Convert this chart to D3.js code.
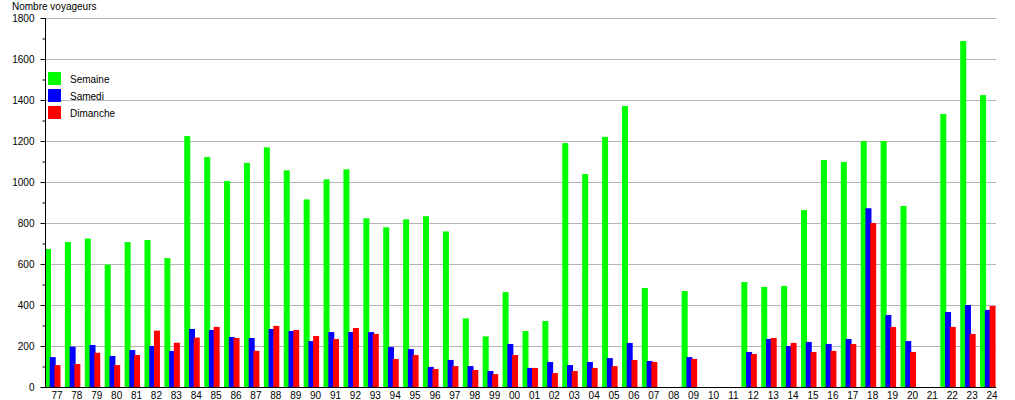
<!DOCTYPE html>
<html>
<head>
<meta charset="utf-8">
<script src="https://cdn.jsdelivr.net/npm/d3@7/dist/d3.min.js"></script>
<style>
  html, body { margin: 0; padding: 0; background: #fff; }
  svg { display: block; font-family: "Liberation Sans", Arial, sans-serif; }
</style>
</head>
<body>
<svg id="chart" width="1015" height="400"></svg>
<script>
const categories = ["77","78","79","80","81","82","83","84","85","86","87","88","89","90","91","92","93","94","95","96","97","98","99",
  "00","01","02","03","04","05","06","07","08","09","10","11","12","13","14","15","16","17","18","19","20","21","22","23","24"];

const semaine = [673,707,724,597,707,717,629,1224,1122,1005,1093,1169,1057,915,1013,1062,823,779,818,833,759,335,247,
  463,273,322,1190,1039,1220,1371,483,null,468,null,null,512,488,493,863,1107,1098,1200,1200,883,null,1332,1688,1424];

const samedi = [146,197,205,151,180,200,176,283,278,244,239,283,273,224,268,268,268,195,185,98,132,102,78,
  210,93,122,107,122,141,215,127,null,146,null,null,171,234,200,220,210,234,872,351,224,null,366,400,376];

const dimanche = [107,112,167,107,156,275,216,241,293,239,176,298,278,249,234,288,259,137,156,88,102,83,63,
  156,93,68,78,93,102,132,122,null,137,null,null,161,239,215,171,176,210,800,293,171,null,293,259,395];

const seriesNames = ["Semaine","Samedi","Dimanche"];
const seriesColors = ["#00ff00","#0000ff","#ff0000"];
const yTickValues = [0,200,400,600,800,1000,1200,1400,1600,1800];
const yMinorValues = [100,300,500,700,900,1100,1300,1500,1700];
const yTitle = "Nombre voyageurs";

(function () {
const seriesData = [semaine, samedi, dimanche];

const svg = d3.select("#chart");
const mLeft = 45, mRight = 1000, mTop = 18, mBottom = 387, gridRight = 996;

const x0 = d3.scaleBand().domain(categories).range([mLeft, mRight]).paddingInner(0).paddingOuter(0);
const x1 = d3.scaleBand().domain(seriesNames).range([0, 14.2]);
const barW = 6;
const y = d3.scaleLinear().domain([0, 1800]).range([mBottom, mTop]);

// gridlines
svg.append("g")
  .selectAll("line")
  .data(yTickValues.filter(v => v > 0))
  .join("line")
  .attr("x1", mLeft).attr("x2", gridRight)
  .attr("y1", d => Math.round(y(d)) + 0.5).attr("y2", d => Math.round(y(d)) + 0.5)
  .attr("stroke", "#b4b4b4").attr("stroke-width", 1);

// bars
seriesNames.forEach((name, si) => {
  svg.append("g")
    .selectAll("rect")
    .data(categories.map((c, i) => ({c, v: seriesData[si][i]})).filter(d => d.v != null))
    .join("rect")
    .attr("x", d => x0(d.c) + x1(name))
    .attr("width", barW)
    .attr("y", d => y(d.v))
    .attr("height", d => y(0) - y(d.v))
    .attr("fill", seriesColors[si]);
});

// y axis major
const yAxis = svg.append("g")
  .attr("transform", `translate(${mLeft + 0.5},0)`)
  .call(d3.axisLeft(y).tickValues(yTickValues).tickSize(5).tickSizeOuter(0).tickPadding(6).tickFormat(d3.format("d")));
yAxis.select(".domain").remove();
yAxis.selectAll("line").attr("stroke", "#000");
yAxis.selectAll("text").attr("font-size", 10).attr("fill", "#000").attr("font-family", "Liberation Sans, Arial, sans-serif");

// y axis minor
const yMinor = svg.append("g")
  .attr("transform", `translate(${mLeft + 0.5},0)`)
  .call(d3.axisLeft(y).tickValues(yMinorValues).tickSize(3).tickFormat(""));
yMinor.select(".domain").remove();
yMinor.selectAll("line").attr("stroke", "#000");

// axis lines
svg.append("line")
  .attr("x1", mLeft + 0.5).attr("x2", mLeft + 0.5)
  .attr("y1", mTop).attr("y2", mBottom + 1)
  .attr("stroke", "#000").attr("stroke-width", 1);
svg.append("line")
  .attr("x1", mLeft).attr("x2", gridRight)
  .attr("y1", mBottom + 0.5).attr("y2", mBottom + 0.5)
  .attr("stroke", "#000").attr("stroke-width", 1.2);

// x axis labels
const xAxis = svg.append("g")
  .attr("transform", `translate(2,${mBottom})`)
  .call(d3.axisBottom(x0).tickSize(0).tickPadding(4.5));
xAxis.select(".domain").remove();
xAxis.selectAll("text").attr("font-size", 10).attr("fill", "#000").attr("font-family", "Liberation Sans, Arial, sans-serif");

// y title
svg.append("text")
  .attr("x", 12).attr("y", 10)
  .attr("font-size", 10).attr("fill", "#000")
  .text(yTitle);

// legend
const legend = svg.append("g");
seriesNames.forEach((name, i) => {
  legend.append("rect")
    .attr("x", 48).attr("y", 72 + i * 17)
    .attr("width", 13).attr("height", 13)
    .attr("fill", seriesColors[i]);
  legend.append("text")
    .attr("x", 70).attr("y", 83 + i * 17)
    .attr("font-size", 10).attr("fill", "#000")
    .text(name);
});
})();
</script>
</body>
</html>
